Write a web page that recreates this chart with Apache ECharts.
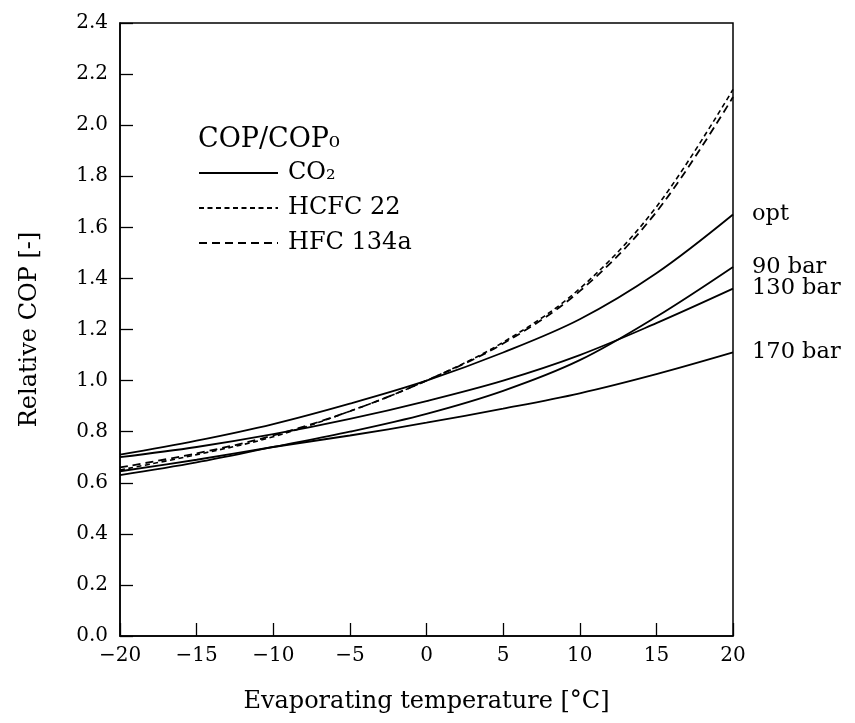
<!DOCTYPE html>
<html>
<head>
<meta charset="utf-8">
<script src="https://cdn.jsdelivr.net/npm/echarts@6/dist/echarts.min.js"></script>
<style>
html,body{margin:0;padding:0;background:#fff;}
#chart{width:855px;height:723px;}
</style>
</head>
<body>
<div id="chart"></div>
<script>
// Evaporating temperature [°C]
const temps = [-20, -15, -10, -5, 0, 5, 10, 15, 20];
// CO2 curves (relative COP)
const co2Opt  = [0.71, 0.765, 0.83, 0.91, 1.00, 1.11, 1.24, 1.42, 1.65];
const co2_90  = [0.63, 0.68, 0.74, 0.80, 0.87, 0.96, 1.08, 1.25, 1.445];
const co2_130 = [0.70, 0.74, 0.79, 0.85, 0.92, 1.00, 1.10, 1.225, 1.36];
const co2_170 = [0.645, 0.69, 0.74, 0.785, 0.835, 0.89, 0.95, 1.025, 1.11];
// Reference refrigerants
const hcfc22  = [0.65, 0.71, 0.78, 0.88, 1.00, 1.15, 1.36, 1.68, 2.14];
const hfc134a = [0.66, 0.715, 0.785, 0.88, 1.00, 1.145, 1.35, 1.66, 2.11];
const co2Labels = ['opt', '90 bar', '130 bar', '170 bar'];

const FONT = 'DejaVu Serif';
const pair = (ys) => temps.map((t, i) => [t, ys[i]]);

const co2Series = [co2Opt, co2_90, co2_130, co2_170].map((ys, k) => ({
  name: 'CO₂',
  type: 'line',
  data: pair(ys),
  smooth: 0.35,
  symbol: 'none',
  lineStyle: { color: '#000', width: 1.8, type: 'solid' },
  itemStyle: { color: '#000' },
  endLabel: {
    show: true,
    formatter: () => co2Labels[k],
    fontFamily: FONT, fontSize: 22.5, color: '#000',
    distance: 19
  },
  z: 3
}));

const option = {
  animation: false,
  backgroundColor: '#fff',
  grid: { left: 120, right: 122, top: 23, bottom: 87, show: true, borderColor: '#000', borderWidth: 1.5, backgroundColor: 'transparent' },
  xAxis: {
    type: 'value', min: -20, max: 20, interval: 5,
    name: 'Evaporating temperature [°C]', nameLocation: 'middle', nameGap: 54,
    nameTextStyle: { fontFamily: FONT, fontSize: 24, color: '#000' },
    axisLine: { onZero: false, lineStyle: { color: '#000', width: 1.5 } },
    axisTick: { inside: true, length: 13, lineStyle: { color: '#000', width: 1.3 } },
    axisLabel: { fontFamily: FONT, fontSize: 20, color: '#000', margin: 10,
      formatter: v => String(v).replace('-', '−') },
    splitLine: { show: false }
  },
  yAxis: {
    type: 'value', min: 0, max: 2.4, interval: 0.2,
    name: 'Relative COP [-]', nameLocation: 'middle', nameGap: 78,
    nameTextStyle: { fontFamily: FONT, fontSize: 24, color: '#000' },
    axisLine: { show: true, onZero: false, lineStyle: { color: '#000', width: 1.5 } },
    axisTick: { show: true, inside: true, length: 13, lineStyle: { color: '#000', width: 1.3 } },
    axisLabel: { fontFamily: FONT, fontSize: 20, color: '#000', margin: 12,
      formatter: v => v.toFixed(1) },
    splitLine: { show: false }
  },
  legend: {
    data: ['CO₂', 'HCFC 22', 'HFC 134a'],
    orient: 'vertical', left: 198, top: 161, padding: 0,
    itemWidth: 79, itemHeight: 24, itemGap: 11,
    itemStyle: { opacity: 0 },
    textStyle: { fontFamily: FONT, fontSize: 24, lineHeight: 24, color: '#000', padding: [0, 0, 0, 5] },
    selectedMode: false
  },
  graphic: [{
    type: 'text', left: 198, top: 126,
    style: { text: 'COP/COP₀', font: '27px "DejaVu Serif"', fill: '#000' }
  }],
  series: [
    ...co2Series,
    {
      name: 'HCFC 22', type: 'line', data: pair(hcfc22), smooth: 0.35, symbol: 'none',
      lineStyle: { color: '#000', width: 1.6, type: [5, 3.5] }, itemStyle: { color: '#000' }, z: 2
    },
    {
      name: 'HFC 134a', type: 'line', data: pair(hfc134a), smooth: 0.35, symbol: 'none',
      lineStyle: { color: '#000', width: 1.8, type: [8, 5] }, itemStyle: { color: '#000' }, z: 2
    }
  ]
};

const chart = echarts.init(document.getElementById('chart'), null, { renderer: 'canvas' });
chart.setOption(option);
</script>
</body>
</html>
